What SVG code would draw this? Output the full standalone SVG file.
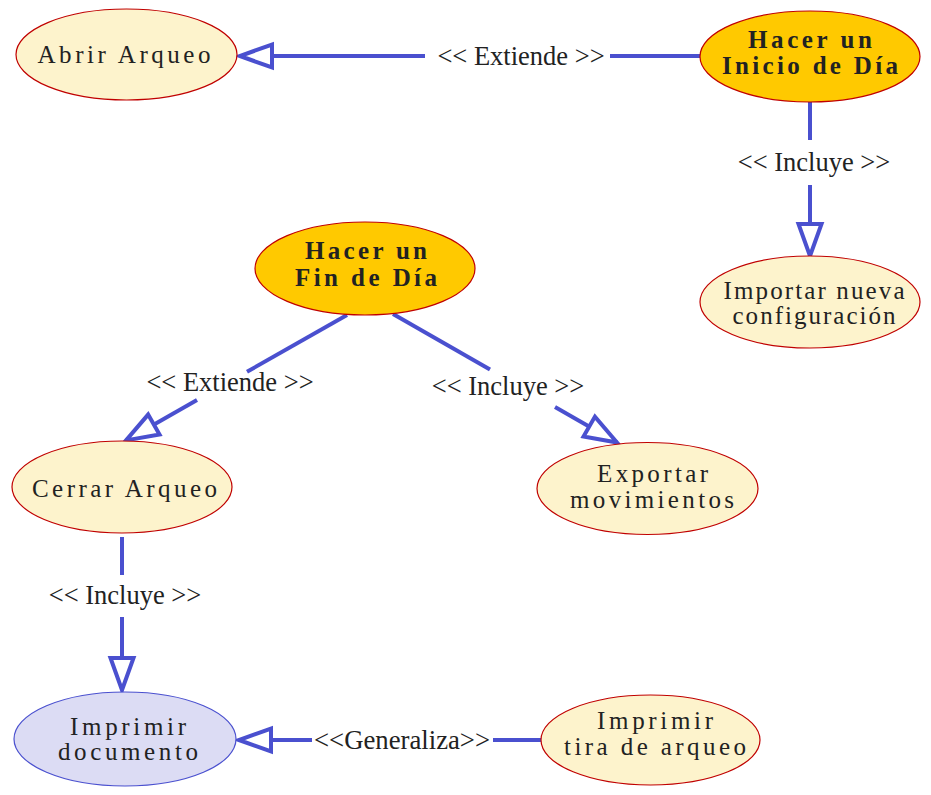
<svg xmlns="http://www.w3.org/2000/svg" width="931" height="795" viewBox="0 0 931 795">
<style>
.n{fill:#fdf3cc;stroke:#c00000;stroke-width:1.2}
.m{fill:#ffc900;stroke:#c00000;stroke-width:1.2}
.d{fill:#dcdcf4;stroke:#4a50cf;stroke-width:1.2}
.t{font-family:"Liberation Serif","Times New Roman",serif;font-size:25px;fill:#222;text-anchor:middle}
.b{font-weight:bold}
.l{font-family:"Liberation Serif","Times New Roman",serif;font-size:26.5px;fill:#222;text-anchor:middle}
.c{stroke:#4a50cf;stroke-width:4;fill:none}
</style>
<defs>
<marker id="ah" markerUnits="userSpaceOnUse" markerWidth="40" markerHeight="30" refX="34" refY="14" orient="auto" overflow="visible">
<path d="M34,14 L2,2.5 L2,25.5 Z" fill="#fff" stroke="#4a50cf" stroke-width="4"/>
</marker>
</defs>
<g id="connectors">
<line class="c" x1="700" y1="56" x2="610" y2="56"/>
<line class="c" x1="425" y1="56" x2="240" y2="56" marker-end="url(#ah)"/>
<text class="l" x="521" y="65">&lt;&lt; Extiende &gt;&gt;</text>
<line class="c" x1="810" y1="102" x2="810" y2="140"/>
<line class="c" x1="810" y1="185" x2="810" y2="256" marker-end="url(#ah)"/>
<text class="l" x="814" y="171">&lt;&lt; Incluye &gt;&gt;</text>
<line class="c" x1="347" y1="315" x2="247" y2="371.8"/>
<line class="c" x1="197" y1="400" x2="126" y2="440.4" marker-end="url(#ah)"/>
<text class="l" x="230" y="391">&lt;&lt; Extiende &gt;&gt;</text>
<line class="c" x1="393" y1="314" x2="490" y2="369.6"/>
<line class="c" x1="555" y1="407" x2="617" y2="442.5" marker-end="url(#ah)"/>
<text class="l" x="508" y="395">&lt;&lt; Incluye &gt;&gt;</text>
<line class="c" x1="122" y1="537" x2="122" y2="575"/>
<line class="c" x1="122" y1="617" x2="122" y2="690" marker-end="url(#ah)"/>
<text class="l" x="125" y="604">&lt;&lt; Incluye &gt;&gt;</text>
<line class="c" x1="541" y1="740" x2="493" y2="740"/>
<line class="c" x1="312" y1="740" x2="239" y2="740" marker-end="url(#ah)"/>
<text class="l" x="402" y="749" textLength="176" lengthAdjust="spacingAndGlyphs">&lt;&lt;Generaliza&gt;&gt;</text>
</g>
<g id="abrir-arqueo">
<ellipse class="n" cx="126.5" cy="54.5" rx="110.5" ry="45.5"/>
<text class="t" x="124" y="63" textLength="173" lengthAdjust="spacing">Abrir Arqueo</text>
</g>
<g id="inicio-dia">
<ellipse class="m" cx="810" cy="56.5" rx="110" ry="45.5"/>
<text class="t b" x="810" y="48" textLength="124" lengthAdjust="spacing">Hacer un</text>
<text class="t b" x="810" y="74" textLength="176" lengthAdjust="spacing">Inicio de Día</text>
</g>
<g id="importar-configuracion">
<ellipse class="n" cx="810" cy="302" rx="110" ry="46"/>
<text class="t" x="814" y="299" textLength="181" lengthAdjust="spacing">Importar nueva</text>
<text class="t" x="814" y="324" textLength="163" lengthAdjust="spacing">configuración</text>
</g>
<g id="fin-dia">
<ellipse class="m" cx="365" cy="268.5" rx="110" ry="46.5"/>
<text class="t b" x="366" y="259" textLength="122" lengthAdjust="spacing">Hacer un</text>
<text class="t b" x="366" y="286" textLength="142" lengthAdjust="spacing">Fin de Día</text>
</g>
<g id="cerrar-arqueo">
<ellipse class="n" cx="122" cy="487" rx="110" ry="46"/>
<text class="t" x="124.5" y="497" textLength="185" lengthAdjust="spacing">Cerrar Arqueo</text>
</g>
<g id="exportar-movimientos">
<ellipse class="n" cx="647.5" cy="488.5" rx="110.5" ry="46"/>
<text class="t" x="652.5" y="482" textLength="111" lengthAdjust="spacing">Exportar</text>
<text class="t" x="652" y="508" textLength="164" lengthAdjust="spacing">movimientos</text>
</g>
<g id="imprimir-documento">
<ellipse class="d" cx="125" cy="739" rx="111" ry="47"/>
<text class="t" x="128" y="735" textLength="116" lengthAdjust="spacing">Imprimir</text>
<text class="t" x="128" y="760" textLength="140" lengthAdjust="spacing">documento</text>
</g>
<g id="imprimir-tira">
<ellipse class="n" cx="650.5" cy="740" rx="109.5" ry="45"/>
<text class="t" x="655" y="729" textLength="116" lengthAdjust="spacing">Imprimir</text>
<text class="t" x="655" y="755" textLength="182" lengthAdjust="spacing">tira de arqueo</text>
</g>
</svg>
